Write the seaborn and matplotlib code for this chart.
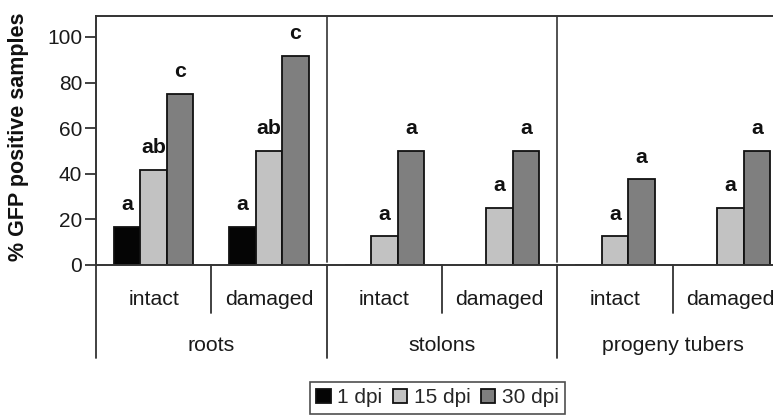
import matplotlib
matplotlib.use("Agg")
import matplotlib.pyplot as plt
import matplotlib.transforms as mtransforms
import seaborn as sns
import pandas as pd

# Data: % of GFP-positive samples per tissue, condition and time point
organs = ["roots", "stolons", "progeny tubers"]
conditions = ["intact", "damaged"]
dpi_levels = ["1 dpi", "15 dpi", "30 dpi"]

pct_1dpi = [16.7, 16.7, 0, 0, 0, 0]
pct_15dpi = [41.7, 50.0, 12.5, 25.0, 12.5, 25.0]
pct_30dpi = [75.0, 91.7, 50.0, 50.0, 37.5, 50.0]

letters_1dpi = ["a", "a", "", "", "", ""]
letters_15dpi = ["ab", "ab", "a", "a", "a", "a"]
letters_30dpi = ["c", "c", "a", "a", "a", "a"]

yticks = [0, 20, 40, 60, 80, 100]

groups = [f"{o} {c}" for o in organs for c in conditions]
sub_labels = [c for o in organs for c in conditions]

rows = []
for vals, lvl in zip([pct_1dpi, pct_15dpi, pct_30dpi], dpi_levels):
    for g, v in zip(groups, vals):
        rows.append({"group": g, "dpi": lvl, "pct": v})
df = pd.DataFrame(rows)

sns.set_theme(style="white")
plt.rcParams["font.family"] = ["Liberation Sans", "DejaVu Sans"]

fig = plt.figure(figsize=(7.73, 4.18), dpi=100)
W, H = 773, 418
left, right, top, bottom = 96, 788, 16, 265
ax = fig.add_axes([left / W, 1 - bottom / H, (right - left) / W, (bottom - top) / H])
ax_h = bottom - top

colors = ["#050505", "#c2c2c2", "#7f7f7f"]
sns.barplot(data=df, x="group", y="pct", hue="dpi", order=groups,
            hue_order=dpi_levels, palette=colors, edgecolor="#111111",
            linewidth=1.3, width=0.69, errorbar=None, ax=ax)

ax.set_xlim(-0.5, 5.5)
ax.set_ylim(0, 109.2)
ax.set_yticks(yticks)
ax.tick_params(axis="y", which="both", left=True, length=8, width=1.3,
               color="#333333", labelsize=15, pad=2)
for lab in ax.get_yticklabels():
    lab.set_color("#1a1a1a")

# Category tick labels drawn manually below the axis
ax.set_xticks([])
ax.set_xlabel("")
ax.set_ylabel("")
fig.text(18.5 / W, 1 - 137 / H, "% GFP positive samples", rotation=90,
         ha="center", va="center", fontsize=15.5, fontweight="bold",
         color="#111111")

for side in ["left", "top", "bottom", "right"]:
    ax.spines[side].set_color("#333333")
    ax.spines[side].set_linewidth(1.4)

# Vertical separators between organs inside the plot
for xs in [1.5, 3.5]:
    ax.axvline(xs, ymin=0.014, ymax=1, color="#444444", lw=1.3)

# Hierarchical axis separators and labels
trans = mtransforms.blended_transform_factory(ax.transData, ax.transAxes)
short_len = 48 / ax_h
long_len = 93 / ax_h
for i in range(len(groups) + 1):
    xs = i - 0.5
    ln = long_len if i % 2 == 0 else short_len
    ax.plot([xs, xs], [0, -ln], transform=trans, color="#333333", lw=1.3,
            clip_on=False)
for i, lab in enumerate(sub_labels):
    ax.text(i, -40 / ax_h, lab, transform=trans, ha="center",
            va="baseline", fontsize=15.3, color="#1a1a1a")
for j, org in enumerate(organs):
    ax.text(2 * j + 0.5, -86 / ax_h, org, transform=trans,
            ha="center", va="baseline", fontsize=15.3, color="#1a1a1a")

# Significance letters above each bar
for cont, letters in zip(ax.containers, [letters_1dpi, letters_15dpi, letters_30dpi]):
    for bar, txt in zip(cont, letters):
        if not txt:
            continue
        ax.annotate(txt, (bar.get_x() + bar.get_width() / 2, bar.get_height()),
                    xytext=(0, 12), textcoords="offset points", ha="center",
                    va="baseline", fontsize=15.3, fontweight="bold",
                    color="#111111")

handles, labels = ax.get_legend_handles_labels()
ax.get_legend().remove()
leg = fig.legend(handles, labels, loc="upper center",
                 bbox_to_anchor=(437.5 / W, 1 - 382 / H), ncol=3, fontsize=15,
                 frameon=True, fancybox=False, edgecolor="#222222",
                 handlelength=0.7, handleheight=0.7, handletextpad=0.3,
                 columnspacing=0.5, borderpad=0.3, borderaxespad=0)
leg.get_frame().set_linewidth(1.2)

fig.savefig("out.png", dpi=100)
